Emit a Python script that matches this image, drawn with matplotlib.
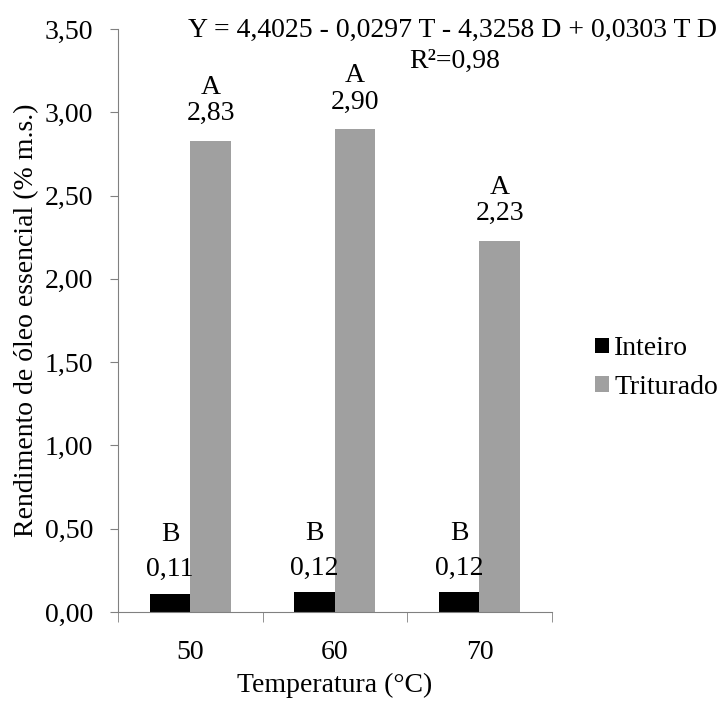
import matplotlib
matplotlib.use("Agg")
import matplotlib.pyplot as plt
import numpy as np

categories = ["50", "60", "70"]
inteiro = [0.11, 0.12, 0.12]
triturado = [2.83, 2.90, 2.23]
letters_inteiro = ["B", "B", "B"]
letters_triturado = ["A", "A", "A"]
yticks = [0.0, 0.5, 1.0, 1.5, 2.0, 2.5, 3.0, 3.5]

plt.rcParams['font.family'] = ['Liberation Serif', 'DejaVu Serif']

fig = plt.figure(figsize=(7.27, 7.02), dpi=100)
ax = fig.add_axes([0.1623, 0.1282, 0.759 - 0.1623, 0.9587 - 0.1282])

x = np.arange(len(categories))
w = 0.28
ax.bar(x - w / 2, inteiro, w, color="black", label="Inteiro")
ax.bar(x + w / 2, triturado, w, color="#a0a0a0", label="Triturado")

def fmt(v):
    return f"{v:.2f}".replace(".", ",")

fs = 20
for xs, vals, lets, dv, dl in [(x - w / 2, inteiro, letters_inteiro, 24, 59),
                               (x + w / 2, triturado, letters_triturado, 27, 53)]:
    for xi, v, l in zip(xs, vals, lets):
        ax.annotate(fmt(v), (xi, v), xytext=(0, dv), textcoords="offset pixels",
                    ha="center", va="center", fontsize=fs)
        ax.annotate(l, (xi, v), xytext=(0, dl), textcoords="offset pixels",
                    ha="center", va="center", fontsize=fs)

ax.set_xlim(-0.5, len(categories) - 0.5)
ax.set_ylim(0, 3.5)
ax.set_yticks(yticks)
ax.set_yticklabels([fmt(t) for t in yticks], fontsize=fs)
ax.set_xticks(x)
ax.set_xticklabels(categories, fontsize=fs)
ax.tick_params(axis="x", length=0, pad=20)
ax.set_xticks(np.arange(-0.5, len(categories), 1.0), minor=True)
ax.tick_params(axis="x", which="minor", length=7, color="#808080", direction="out")
ax.tick_params(axis="y", length=6, color="#808080", direction="out", pad=12)

for s in ["top", "right"]:
    ax.spines[s].set_visible(False)
for s in ["left", "bottom"]:
    ax.spines[s].set_color("#808080")

ax.set_xlabel("Temperatura (°C)", fontsize=fs, labelpad=6)
ax.set_ylabel("Rendimento de óleo essencial (% m.s.)", fontsize=fs, labelpad=4)

fig.text(0.623, 0.957, "Y = 4,4025 - 0,0297 T - 4,3258 D + 0,0303 T D",
         ha="center", va="center", fontsize=fs)
fig.text(0.626, 0.912, "R²=0,98", ha="center", va="center", fontsize=fs)

ax.legend(loc="center left", bbox_to_anchor=(1.10, 0.418), frameon=False,
          fontsize=fs, handlelength=0.5, handleheight=0.5,
          handletextpad=0.18, labelspacing=0.5, borderaxespad=0, borderpad=0)

fig.savefig("out.png", dpi=100)
